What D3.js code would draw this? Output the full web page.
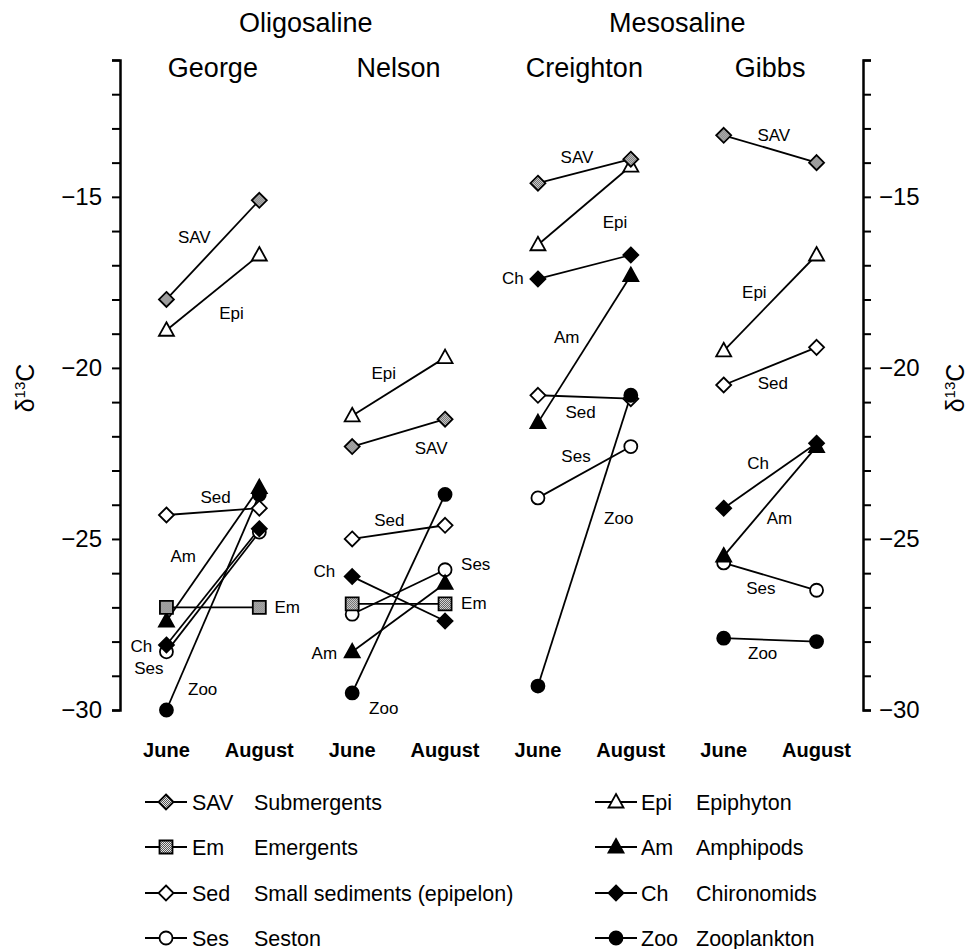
<!DOCTYPE html>
<html lang="en">
<head>
    <meta charset="UTF-8">
    <title>Seasonal δ13C shifts</title>
    <style>
        body { margin: 0; background: #fff; }
        svg text { font-family: "Liberation Sans", Arial, Helvetica, sans-serif; fill: #000; }
        .tick text { font-size: 24px; }
        .tick line { stroke: #000; stroke-width: 2; }
        .domain { stroke: #000; stroke-width: 2.5; }
        .title { font-size: 27px; }
        .month { font-size: 20px; font-weight: bold; }
        .series-label { font-size: 17px; }
        .legend text { font-size: 21.5px; }
        .axis-label { font-size: 25px; }
    </style>
</head>
<body>
<svg width="972" height="949"></svg>
<script src="https://d3js.org/d3.v7.min.js"></script>
<script>

    // ---- data ----
    const salinity = ['Oligosaline', 'Mesosaline'];
    const lakes = ['George', 'Nelson', 'Creighton', 'Gibbs'];
    const months = ['June', 'August'];
    const yLabels = [-30, -25, -20, -15];

    const codes = ['SAV', 'Em', 'Sed', 'Ses', 'Epi', 'Am', 'Ch', 'Zoo'];
    const names = ['Submergents', 'Emergents', 'Small sediments (epipelon)', 'Seston',
                   'Epiphyton', 'Amphipods', 'Chironomids', 'Zooplankton'];

    // [June, August] per lake (George, Nelson, Creighton, Gibbs)
    const sav = [[-18.0, -15.1], [-22.3, -21.5], [-14.6, -13.9], [-13.2, -14.0]];
    const em  = [[-27.0, -27.0], [-26.9, -26.9], null, null];
    const sed = [[-24.3, -24.1], [-25.0, -24.6], [-20.8, -20.9], [-20.5, -19.4]];
    const ses = [[-28.3, -24.8], [-27.2, -25.9], [-23.8, -22.3], [-25.7, -26.5]];
    const epi = [[-18.9, -16.7], [-21.4, -19.7], [-16.4, -14.1], [-19.5, -16.7]];
    const am  = [[-27.4, -23.5], [-28.3, -26.3], [-21.6, -17.3], [-25.5, -22.3]];
    const ch  = [[-28.1, -24.7], [-26.1, -27.4], [-17.4, -16.7], [-24.1, -22.2]];
    const zoo = [[-30.0, -23.7], [-29.5, -23.7], [-29.3, -20.8], [-27.9, -28.0]];

    const values = { SAV: sav, Em: em, Sed: sed, Ses: ses, Epi: epi, Am: am, Ch: ch, Zoo: zoo };

    // in-plot labels: [code, step offset from June, δ13C]
    const georgeLabels = [['SAV', 0.3, -16.2], ['Epi', 0.7, -18.4], ['Sed', 0.53, -23.8], ['Am', 0.18, -25.5],
                          ['Ch', -0.27, -28.15], ['Ses', -0.19, -28.8], ['Em', 1.3, -27.0], ['Zoo', 0.39, -29.4]];
    const nelsonLabels = [['Epi', 0.34, -20.15], ['SAV', 0.85, -22.35], ['Sed', 0.4, -24.45], ['Ch', -0.3, -25.95],
                          ['Ses', 1.33, -25.75], ['Em', 1.31, -26.9], ['Am', -0.3, -28.35], ['Zoo', 0.34, -29.95]];
    const creightonLabels = [['SAV', 0.42, -13.85], ['Epi', 0.83, -15.75], ['Ch', -0.27, -17.4], ['Am', 0.31, -19.1],
                             ['Sed', 0.46, -21.3], ['Ses', 0.41, -22.6], ['Zoo', 0.87, -24.4]];
    const gibbsLabels = [['SAV', 0.54, -13.2], ['Epi', 0.33, -17.8], ['Sed', 0.53, -20.45], ['Ch', 0.37, -22.8],
                         ['Am', 0.6, -24.4], ['Ses', 0.4, -26.45], ['Zoo', 0.42, -28.35]];
    const seriesLabels = [georgeLabels, nelsonLabels, creightonLabels, gibbsLabels];

    const legendLeft = ['SAV', 'Em', 'Sed', 'Ses'];
    const legendRight = ['Epi', 'Am', 'Ch', 'Zoo'];

    // ---- marker styles ----
    const markerShape = {
        SAV: 'diamond', Em: 'square', Sed: 'diamond', Ses: 'circle',
        Epi: 'triangle', Am: 'triangle', Ch: 'diamond', Zoo: 'circle'
    };
    const markerFill = {
        SAV: 'url(#stipple)', Em: 'url(#stipple)', Sed: '#fff', Ses: '#fff',
        Epi: '#fff', Am: '#000', Ch: '#000', Zoo: '#000'
    };
    const shapePath = {
        diamond: 'M0,-7.5L7.5,0L0,7.5L-7.5,0Z',
        square: 'M-6.5,-6.5H6.5V6.5H-6.5Z',
        circle: 'M6.5,0A6.5,6.5 0 1,1 -6.5,0A6.5,6.5 0 1,1 6.5,0Z',
        triangle: 'M0,-8L7.5,5.5L-7.5,5.5Z'
    };
    // drawing order so overlaps stack as in the original
    const drawOrder = ['Ses', 'Sed', 'Zoo', 'Ch', 'Epi', 'Am', 'Em', 'SAV'];

    const svg = d3.select('svg');

    // stippled grey fill for plant markers
    const pat = svg.append('defs').append('pattern')
        .attr('id', 'stipple')
        .attr('width', 2).attr('height', 2)
        .attr('patternUnits', 'userSpaceOnUse');
    pat.append('rect').attr('width', 2).attr('height', 2).attr('fill', '#e6e6e6');
    pat.append('rect').attr('width', 1).attr('height', 1).attr('fill', '#555');
    pat.append('rect').attr('x', 1).attr('y', 1).attr('width', 1).attr('height', 1).attr('fill', '#555');

    // ---- scales ----
    const xLake = d3.scaleBand().domain(lakes).range([120, 863]);
    const xMonth = d3.scalePoint().domain(months).range([0, xLake.bandwidth()]).padding(0.5);
    const y = d3.scaleLinear().domain([-30, -11]).range([710, 60]);

    const xAt = function (lake, step) {
        return xLake(lake) + xMonth(months[0]) + step * xMonth.step();
    };

    // ---- axes ----
    const tickFmt = function (d) {
        return yLabels.includes(d) ? d3.format('')(d) : '';
    };

    svg.append('g')
        .attr('transform', 'translate(120,0)')
        .call(d3.axisLeft(y).tickValues(d3.range(-30, -10, 1)).tickSize(8).tickPadding(10).tickFormat(tickFmt));

    svg.append('g')
        .attr('transform', 'translate(863,0)')
        .call(d3.axisRight(y).tickValues(d3.range(-30, -10, 1)).tickSize(8).tickPadding(8).tickFormat(tickFmt));

    svg.selectAll('.domain').attr('fill', 'none');

    const axisTitle = function (x) {
        const t = svg.append('text')
            .attr('class', 'axis-label')
            .attr('transform', 'translate(' + x + ',388) rotate(-90)')
            .attr('text-anchor', 'middle');
        t.append('tspan').text('δ');
        t.append('tspan').attr('dy', -9).style('font-size', '15px').text('13');
        t.append('tspan').attr('dy', 9).text('C');
    };
    axisTitle(34);
    axisTitle(964);

    // ---- titles ----
    salinity.forEach(function (s, i) {
        const a = xLake(lakes[i * 2]) + xLake.bandwidth() / 2;
        const b = xLake(lakes[i * 2 + 1]) + xLake.bandwidth() / 2;
        svg.append('text').attr('class', 'title')
            .attr('x', (a + b) / 2).attr('y', 32)
            .attr('text-anchor', 'middle').text(s);
    });

    svg.selectAll('.lake-title')
        .data(lakes)
        .enter()
        .append('text')
        .attr('class', 'title')
        .attr('x', function (d) { return xLake(d) + xLake.bandwidth() / 2; })
        .attr('y', 77)
        .attr('text-anchor', 'middle')
        .text(function (d) { return d; });

    // month labels under each lake
    lakes.forEach(function (lake) {
        months.forEach(function (m) {
            svg.append('text').attr('class', 'month')
                .attr('x', xLake(lake) + xMonth(m))
                .attr('y', 757)
                .attr('text-anchor', 'middle')
                .text(m);
        });
    });

    // ---- lines & markers ----
    const line = d3.line()
        .x(function (d) { return xLake(d.lake) + xMonth(d.month); })
        .y(function (d) { return y(d.value); });

    const rows = [];
    codes.forEach(function (code) {
        lakes.forEach(function (lake, i) {
            const v = values[code][i];
            if (!v) return;
            rows.push({ code: code, lake: lake, pts: months.map(function (m, j) {
                return { lake: lake, month: m, value: v[j], code: code };
            }) });
        });
    });

    const plot = svg.append('g');

    plot.selectAll('.series-line')
        .data(rows)
        .enter()
        .append('path')
        .attr('d', function (d) { return line(d.pts); })
        .attr('fill', 'none')
        .attr('stroke', '#000')
        .attr('stroke-width', 1.8);

    const points = [];
    drawOrder.forEach(function (code) {
        rows.filter(function (r) { return r.code === code; })
            .forEach(function (r) { r.pts.forEach(function (p) { points.push(p); }); });
    });

    plot.selectAll('.marker')
        .data(points)
        .enter()
        .append('path')
        .attr('transform', function (d) {
            return 'translate(' + (xLake(d.lake) + xMonth(d.month)) + ',' + y(d.value) + ')';
        })
        .attr('d', function (d) { return shapePath[markerShape[d.code]]; })
        .attr('fill', function (d) { return markerFill[d.code]; })
        .attr('stroke', '#000')
        .attr('stroke-width', 1.8);

    // in-plot series labels
    seriesLabels.forEach(function (list, i) {
        plot.selectAll('.lbl-' + i)
            .data(list)
            .enter()
            .append('text')
            .attr('class', 'series-label')
            .attr('x', function (d) { return xAt(lakes[i], d[1]); })
            .attr('y', function (d) { return y(d[2]); })
            .attr('text-anchor', 'middle')
            .attr('dominant-baseline', 'central')
            .text(function (d) { return d[0]; });
    });

    // ---- legend ----
    const legendRows = [802, 847, 893, 938];

    const drawLegend = function (list, x0, codeX, nameX) {
        const g = svg.append('g').attr('class', 'legend');
        list.forEach(function (code, i) {
            const ry = legendRows[i];
            g.append('line')
                .attr('x1', x0).attr('x2', x0 + 42)
                .attr('y1', ry).attr('y2', ry)
                .attr('stroke', '#000').attr('stroke-width', 1.8);
            g.append('path')
                .attr('transform', 'translate(' + (x0 + 21) + ',' + ry + ')')
                .attr('d', shapePath[markerShape[code]])
                .attr('fill', markerFill[code])
                .attr('stroke', '#000')
                .attr('stroke-width', 1.8);
            g.append('text').attr('x', codeX).attr('y', ry + 7.5).text(code);
            g.append('text').attr('x', nameX).attr('y', ry + 7.5).text(names[codes.indexOf(code)]);
        });
    };

    drawLegend(legendLeft, 145, 192, 254);
    drawLegend(legendRight, 595, 641, 696);

</script>
</body>
</html>
